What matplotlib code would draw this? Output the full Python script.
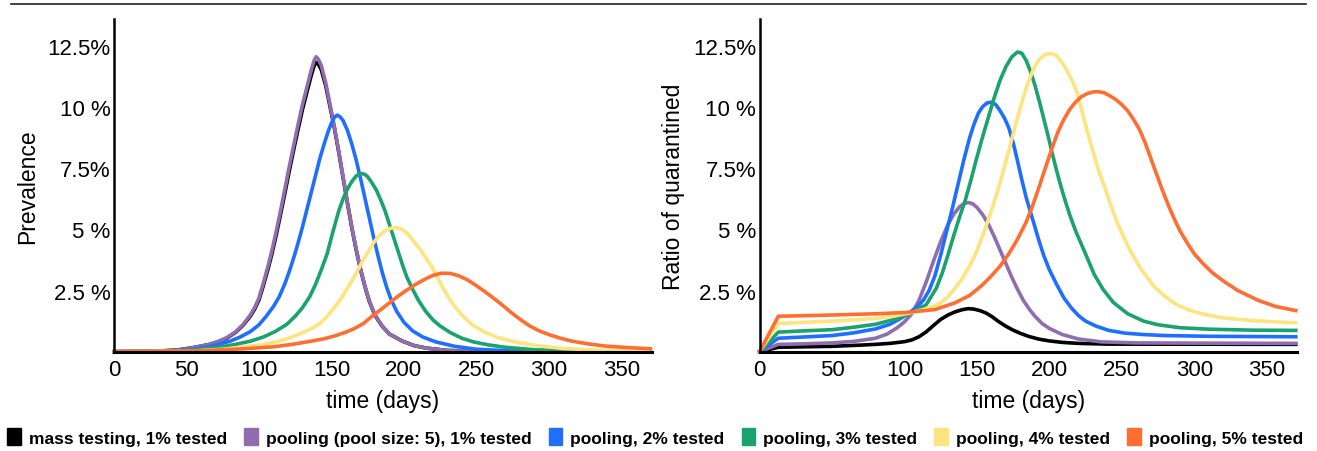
import matplotlib
matplotlib.use('Agg')
import matplotlib.pyplot as plt
from matplotlib.patches import Patch
from matplotlib.lines import Line2D

plt.rcParams['font.family'] = ['Liberation Sans', 'DejaVu Sans']

labels = ['mass testing, 1% tested', 'pooling (pool size: 5), 1% tested', 'pooling, 2% tested',
          'pooling, 3% tested', 'pooling, 4% tested', 'pooling, 5% tested']
colors = ['#000000', '#8f6db0', '#1f6fff', '#1aa36f', '#fde47f', '#ff6e31']

y_ticks = [2.5, 5, 7.5, 10, 12.5]
y_tick_labels = ['2.5 %', '5 %', '7.5%', '10 %', '12.5%']
x_ticks = [0, 50, 100, 150, 200, 250, 300, 350]

# --- Prevalence (%), left panel ---
prev_days_pool = [0, 30, 45, 55, 66, 72, 78, 84, 89, 94, 97, 100, 103, 106, 109, 112, 115, 118, 121, 124,
                  127, 130, 133, 136, 138, 139.5, 141, 143, 146, 149, 152, 155, 158, 161, 164, 167, 170,
                  173, 176, 180, 185, 190, 199, 207, 215, 230, 260, 370]
prev_pool = [0, 0.02, 0.08, 0.17, 0.3, 0.42, 0.58, 0.82, 1.11, 1.5, 1.8, 2.2, 2.8, 3.45, 4.15, 4.95, 5.8,
             6.7, 7.6, 8.45, 9.3, 10.1, 10.8, 11.5, 11.9, 12.06, 11.95, 11.7, 11.0, 10.1, 9.2, 8.2, 7.15,
             6.1, 5.1, 4.2, 3.4, 2.7, 2.1, 1.5, 1.05, 0.72, 0.43, 0.25, 0.15, 0.05, 0.01, 0]
prev_days_black = prev_days_pool
prev_black = [0, 0.02, 0.08, 0.17, 0.3, 0.41, 0.56, 0.8, 1.08, 1.45, 1.74, 2.12, 2.7, 3.33, 4.02, 4.8,
              5.65, 6.52, 7.42, 8.27, 9.1, 9.9, 10.6, 11.28, 11.68, 11.82, 11.75, 11.52, 10.88, 10.02,
              9.15, 8.17, 7.12, 6.08, 5.08, 4.18, 3.38, 2.68, 2.08, 1.49, 1.04, 0.72, 0.43, 0.25, 0.15,
              0.05, 0.01, 0]
prev_days_2 = [0, 40, 55, 65, 72, 80, 87, 94, 100, 105, 110, 114, 118, 121, 124, 127, 130, 133, 136, 139,
               142, 145, 148, 150, 152, 154, 156, 158, 161, 164, 167, 170, 173, 176, 179, 182, 185, 188,
               191, 195, 200, 206, 213, 222, 235, 250, 275, 320, 370]
prev_2 = [0, 0.03, 0.1, 0.2, 0.3, 0.43, 0.6, 0.82, 1.1, 1.45, 1.85, 2.25, 2.8, 3.3, 3.85, 4.45, 5.1, 5.8,
          6.5, 7.2, 7.9, 8.5, 9.05, 9.35, 9.58, 9.67, 9.6, 9.45, 9.05, 8.5, 7.85, 7.1, 6.3, 5.5, 4.7,
          3.95, 3.25, 2.65, 2.15, 1.65, 1.2, 0.85, 0.6, 0.4, 0.22, 0.1, 0.03, 0.01, 0]
prev_days_3 = [0, 45, 60, 72, 84, 94, 103, 111, 119, 125, 130, 135, 139, 143, 147, 151, 155, 158, 161,
               164, 167, 169, 171, 173, 175, 178, 181, 184, 187, 190, 193, 196, 199, 202, 206, 210, 215,
               220, 225, 232, 240, 248, 258, 270, 290, 320, 370]
prev_3 = [0, 0.03, 0.1, 0.18, 0.3, 0.43, 0.6, 0.82, 1.11, 1.45, 1.8, 2.25, 2.75, 3.35, 4.0, 4.9, 5.75,
          6.25, 6.65, 6.95, 7.18, 7.26, 7.28, 7.25, 7.15, 6.9, 6.6, 6.2, 5.75, 5.2, 4.65, 4.1, 3.55,
          3.05, 2.55, 2.1, 1.65, 1.3, 1.05, 0.78, 0.55, 0.4, 0.28, 0.18, 0.08, 0.03, 0]
prev_days_4 = [0, 55, 75, 90, 103, 113, 123, 131, 137, 142, 147, 152, 157, 162, 167, 171, 175, 179, 183,
               187, 191, 195, 199, 203, 207, 211, 215, 219, 223, 227, 231, 235, 240, 247, 255, 265, 278,
               293, 310, 335, 370]
prev_4 = [0, 0.03, 0.1, 0.2, 0.3, 0.42, 0.6, 0.8, 0.97, 1.15, 1.45, 1.8, 2.2, 2.7, 3.2, 3.65, 4.05,
          4.45, 4.75, 4.95, 5.05, 5.07, 5.0, 4.8, 4.5, 4.2, 3.85, 3.5, 3.05, 2.6, 2.2, 1.85, 1.5, 1.1,
          0.82, 0.57, 0.38, 0.24, 0.13, 0.06, 0.02]
prev_days_5 = [0, 60, 90, 110, 123, 135, 145, 152, 160, 166, 172, 178, 184, 190, 196, 202, 208, 214, 220,
               226, 232, 238, 244, 250, 256, 262, 268, 274, 280, 286, 293, 300, 308, 316, 327, 339, 354,
               370]
prev_5 = [0, 0.04, 0.12, 0.2, 0.3, 0.42, 0.53, 0.64, 0.8, 0.95, 1.15, 1.45, 1.72, 2.0, 2.27, 2.52, 2.75,
          2.95, 3.12, 3.21, 3.2, 3.1, 2.93, 2.7, 2.45, 2.18, 1.9, 1.6, 1.33, 1.08, 0.86, 0.7, 0.55,
          0.43, 0.32, 0.23, 0.17, 0.12]

# --- Ratio of quarantined (%), right panel ---
quar_days_black = [0, 13, 30, 50, 70, 80, 90, 100, 105, 110, 115, 120, 125, 130, 135, 140, 144, 148, 152,
                   156, 160, 165, 170, 175, 180, 186, 193, 200, 209, 220, 240, 370]
quar_black = [0, 0.18, 0.2, 0.22, 0.27, 0.3, 0.34, 0.41, 0.48, 0.61, 0.81, 1.07, 1.32, 1.5, 1.63, 1.72,
              1.76, 1.74, 1.68, 1.59, 1.45, 1.23, 1.04, 0.88, 0.75, 0.62, 0.51, 0.44, 0.38, 0.34, 0.31,
              0.3]
quar_days_pool = [0, 13, 30, 50, 65, 80, 88, 95, 100, 105, 110, 115, 120, 125, 130, 134, 138, 141, 144,
                  147, 150, 154, 158, 162, 166, 170, 174, 178, 182, 186, 190, 195, 200, 209, 220, 236,
                  260, 300, 370]
quar_pool = [0, 0.3, 0.32, 0.36, 0.42, 0.55, 0.72, 0.98, 1.22, 1.55, 2.1, 2.85, 3.7, 4.5, 5.2, 5.62,
             5.92, 6.05, 6.1, 6.05, 5.9, 5.6, 5.2, 4.7, 4.15, 3.6, 3.05, 2.55, 2.1, 1.75, 1.45, 1.15,
             0.95, 0.7, 0.52, 0.4, 0.36, 0.35, 0.34]
quar_days_2 = [0, 13, 30, 50, 65, 80, 90, 98, 104, 109, 113, 117, 121, 125, 129, 133, 137, 141, 145, 148,
               151, 154, 157, 160, 163, 166, 169, 172, 175, 178, 181, 184, 187, 190, 193, 196, 200, 205,
               210, 215, 220, 225, 232, 241, 252, 265, 280, 310, 370]
quar_2 = [0, 0.55, 0.6, 0.66, 0.77, 0.93, 1.12, 1.38, 1.62, 1.85, 2.1, 2.5, 3.1, 3.95, 4.9, 5.85, 6.85,
          7.85, 8.75, 9.3, 9.75, 10.02, 10.17, 10.2, 10.1, 9.85, 9.55, 9.15, 8.55, 7.8, 7.02, 6.3, 5.7,
          5.1, 4.5, 3.95, 3.35, 2.75, 2.2, 1.8, 1.48, 1.25, 1.05, 0.87, 0.76, 0.7, 0.66, 0.63, 0.61]
quar_days_3 = [0, 13, 30, 50, 65, 80, 95, 105, 115, 122, 126, 130, 134, 138, 142, 146, 150, 154, 158, 162,
               166, 170, 174, 178, 181, 184, 187, 190, 193, 196, 199, 202, 205, 208, 211, 214, 218, 222,
               226, 231, 237, 244, 254, 265, 275, 290, 310, 340, 370]
quar_3 = [0, 0.8, 0.85, 0.9, 1.0, 1.12, 1.35, 1.6, 1.92, 2.6, 3.2, 3.95, 4.75, 5.5, 6.2, 7.05, 7.95,
          8.8, 9.6, 10.4, 11.1, 11.65, 12.05, 12.25, 12.2, 11.9, 11.45, 10.9, 10.25, 9.55, 8.85, 8.1,
          7.4, 6.75, 6.15, 5.6, 4.95, 4.4, 3.85, 3.15, 2.55, 2.02, 1.55, 1.25, 1.1, 0.98, 0.92, 0.88,
          0.87]
quar_days_4 = [0, 13, 30, 50, 65, 80, 92, 105, 115, 124, 130, 135, 140, 145, 149, 153, 157, 161, 165,
               169, 173, 177, 181, 185, 189, 193, 197, 201, 205, 209, 213, 216, 219, 222, 226, 230, 234,
               238, 242, 246, 250, 254, 258, 263, 268, 273, 280, 287, 295, 305, 320, 340, 370]
quar_4 = [0, 1.15, 1.2, 1.25, 1.3, 1.36, 1.45, 1.6, 1.75, 1.95, 2.25, 2.6, 3.0, 3.5, 3.98, 4.6, 5.25,
          5.95, 6.7, 7.55, 8.45, 9.35, 10.2, 10.95, 11.55, 11.95, 12.15, 12.2, 12.1, 11.8, 11.4, 11.05,
          10.6, 9.95, 9.05, 8.2, 7.4, 6.75, 6.05, 5.4, 4.85, 4.35, 3.9, 3.4, 3.0, 2.62, 2.25, 1.95,
          1.73, 1.55, 1.38, 1.27, 1.18]
quar_days_5 = [0, 13, 30, 50, 80, 100, 121, 135, 145, 154, 160, 166, 172, 178, 184, 188, 193, 198, 202,
               206, 210, 214, 218, 222, 226, 230, 234, 238, 242, 246, 250, 254, 258, 262, 266, 270, 274,
               278, 282, 286, 290, 295, 300, 306, 313, 321, 330, 344, 356, 370]
quar_5 = [0, 1.45, 1.47, 1.5, 1.55, 1.6, 1.72, 2.0, 2.3, 2.74, 3.1, 3.5, 4.0, 4.6, 5.3, 5.9, 6.75, 7.65,
          8.35, 9.0, 9.5, 9.9, 10.2, 10.42, 10.55, 10.62, 10.63, 10.58, 10.45, 10.3, 10.1, 9.85, 9.5,
          9.1, 8.55, 7.9, 7.25, 6.6, 6.0, 5.45, 4.95, 4.45, 4.0, 3.6, 3.2, 2.85, 2.5, 2.1, 1.85, 1.68]

prev_series = [(prev_days_black, prev_black), (prev_days_pool, prev_pool), (prev_days_2, prev_2),
               (prev_days_3, prev_3), (prev_days_4, prev_4), (prev_days_5, prev_5)]
quar_series = [(quar_days_black, quar_black), (quar_days_pool, quar_pool), (quar_days_2, quar_2),
               (quar_days_3, quar_3), (quar_days_4, quar_4), (quar_days_5, quar_5)]

fig = plt.figure(figsize=(13.17, 4.52), dpi=100)
ax1 = fig.add_axes([0.0866, 0.2197, 0.4083, 0.736])
ax2 = fig.add_axes([0.5767, 0.2197, 0.4083, 0.736])

for ax, series, ylabel in [(ax1, prev_series, 'Prevalence'), (ax2, quar_series, 'Ratio of quarantined')]:
    for (days, vals), c in zip(series, colors):
        ax.plot(days, vals, color=c, lw=2.6, solid_joinstyle='round', clip_on=False)
    ax.set_xlim(0, 371)
    ax.set_ylim(0, 13.6)
    ax.set_xticks(x_ticks)
    ax.set_yticks(y_ticks)
    ax.set_yticklabels(y_tick_labels)
    ax.tick_params(length=0, labelsize=16)
    ax.tick_params(axis='y', pad=2.5)
    ax.tick_params(axis='x', pad=5)
    for s in ['top', 'right']:
        ax.spines[s].set_visible(False)
    ax.spines['left'].set_linewidth(1.8)
    ax.spines['bottom'].set_linewidth(2.2)
    ax.set_xlabel('time (days)', fontsize=16.5, labelpad=7)
    ax.set_ylabel(ylabel, fontsize=16.5, labelpad=6)

# thin rule across the top
fig.add_artist(Line2D([0.008, 0.992], [0.989, 0.989], color='#222222', lw=1.2))

handles = [Patch(facecolor=c, edgecolor=c) for c in colors]
fig.legend(handles, labels, loc='center', bbox_to_anchor=(0.4975, 0.031), ncol=6, frameon=False,
           prop={'weight': 'bold', 'size': 12.5}, handlelength=0.8, handleheight=1.1,
           handletextpad=0.46, columnspacing=0.98, borderpad=0.1)

fig.savefig('out.png', dpi=100)
